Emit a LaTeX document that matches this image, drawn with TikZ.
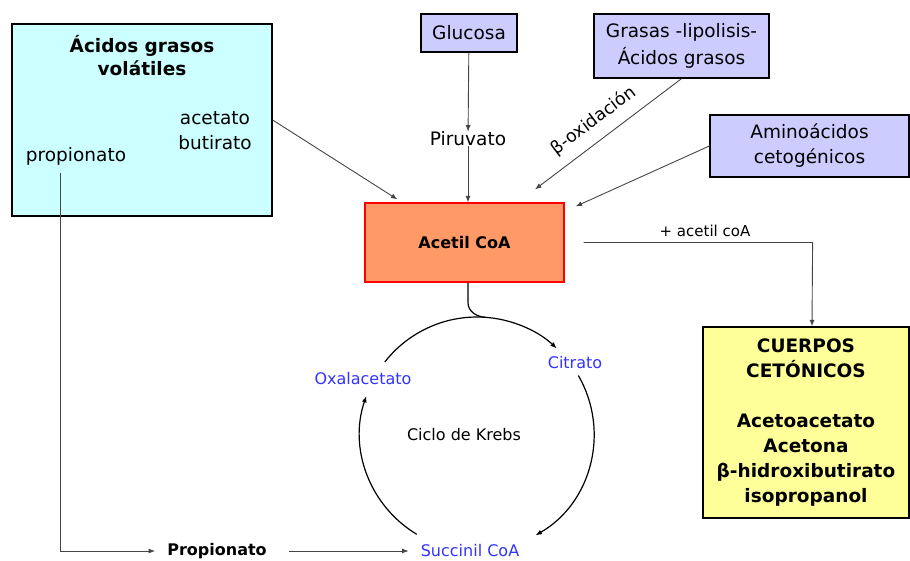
\documentclass[tikz,border=0pt]{standalone}
\usepackage{fontspec}
\setmainfont{DejaVu Sans}
\usetikzlibrary{positioning, arrows.meta, calc}
\definecolor{vfabg}{HTML}{CCFFFF}
\definecolor{sourcebg}{HTML}{CCCCFF}
\definecolor{acetilbg}{HTML}{FF9966}
\definecolor{acetilborder}{HTML}{FF0000}
\definecolor{ketobg}{HTML}{FFFF99}
\definecolor{krebstext}{HTML}{3333FF}
\definecolor{flowline}{HTML}{454545}

\begin{document}
\begin{tikzpicture}[
    x=1pt, y=1pt,
    >={Latex[length=6.5pt,width=5pt]},
    every node/.style={inner sep=0pt},
    box/.style={draw, line width=1.3pt, align=center},
    big/.style={font=\fontsize{18.5}{25}\selectfont, align=center},
    bigbold/.style={font=\fontsize{18.5}{25}\selectfont\bfseries, align=center},
    small/.style={font=\fontsize{16}{20}\selectfont},
    smallbold/.style={font=\fontsize{16}{20}\selectfont\bfseries},
    inter/.style={small, text=krebstext},
    flow/.style={->, line width=0.9pt, flowline},
    cyc/.style={->, line width=1.2pt, black},
]
\useasboundingbox (0,0) rectangle (910,-560);

% Volatile fatty acids
\node[box, fill=vfabg, minimum width=260pt, minimum height=192pt] (vfa)
    at (142,-120) {};
\node[bigbold, font=\fontsize{18.5}{23}\selectfont\bfseries] (vfatitle) at (142,-56)
    {Ácidos grasos\\volátiles};
\node[big] (acebut) at (215,-131) {acetato\\butirato};
\node[big] (prop) at (76,-156) {propionato};

% Sources on top
\node[box, big, fill=sourcebg, minimum width=96pt, minimum height=38pt] (glucosa)
    at (469,-33) {Glucosa};
\node[big] (piruvato) at (468,-139) {Piruvato};
\node[box, big, fill=sourcebg, minimum width=175pt, minimum height=64pt,
    font=\fontsize{18.5}{27}\selectfont] (grasas)
    at (681.5,-46) {Grasas -lipolisis-\\Ácidos grasos};
\node[box, big, fill=sourcebg, minimum width=199pt, minimum height=62pt] (amino)
    at (809.5,-146) {Aminoácidos\\cetogénicos};

% Acetil CoA
\node[box, smallbold, fill=acetilbg, draw=acetilborder, line width=1.2pt,
    minimum width=199pt, minimum height=79pt] (acetil)
    at (464.5,-242.5) {Acetil CoA};

% Ketone bodies
\node[box, bigbold, fill=ketobg, minimum width=206pt, minimum height=191pt] (cuerpos)
    at (806,-422.5)
    {CUERPOS\\CETÓNICOS\\[25pt]Acetoacetato\\Acetona\\β-hidroxibutirato\\isopropanol};

% Krebs cycle
\coordinate (kc) at (477,-434);
\node[small] (ciclo) at (464,-435) {Ciclo de Krebs};
\node[inter] (citrato) at (575,-363) {Citrato};
\node[inter] (oxal) at (363,-379) {Oxalacetato};
\node[inter] (succ) at (470,-551) {Succinil CoA};
\node[smallbold] (propB) at (217,-551) {Propionato};

\coordinate (oxa-out) at ($(kc)+(142:117)$);
\coordinate (cit-out) at ($(kc)+(30:117)$);
\coordinate (suc-out) at ($(kc)+(239:117)$);
\coordinate (ktop) at ($(kc)+(86:117)$);

\draw[cyc] (oxa-out) arc[start angle=142, end angle=47, radius=117];
\draw[cyc] (cit-out) arc[start angle=30, end angle=-60, radius=117];
\draw[cyc] (suc-out) arc[start angle=239, end angle=161, radius=117];
\draw[line width=1.2pt] ($(acetil.south)+(3.5,0)$) -- ++(0,-20)
    to[out=-90, in=176] (ktop);

% Arrows into Acetil CoA
\draw[flow] (glucosa) -- (piruvato);
\draw[flow] (piruvato) -- (piruvato |- acetil.north);
\draw[flow] (vfa.east) -- ($(acetil.north west)+(33,3)$);
\draw[flow] (grasas.south) -- node[font=\fontsize{17.5}{20}\selectfont, text=black,
    sloped, above=10pt, pos=0.52] {β-oxidación}
    ($(acetil.north)+(70.5,13)$);
\draw[flow] (amino.west) -- ($(acetil.north east)+(11,-4)$);

% Acetil CoA -> ketone bodies
\draw[flow] ($(acetil.east)+(19,0)$)
    -- node[font=\fontsize{15}{18}\selectfont, text=black, above=5pt, pos=0.53] {+ acetil coA}
    ($(acetil.east)+(248,0)$) -- ($(cuerpos.north)+(6,0)$);

% Propionate route
\draw[flow] ($(prop.south)+(-16,-8)$) |- ($(propB.west)+(-12,0)$);
\draw[flow] ($(propB.east)+(22,0)$) -- ($(succ.west)+(-12,0)$);

\end{tikzpicture}
\end{document}
